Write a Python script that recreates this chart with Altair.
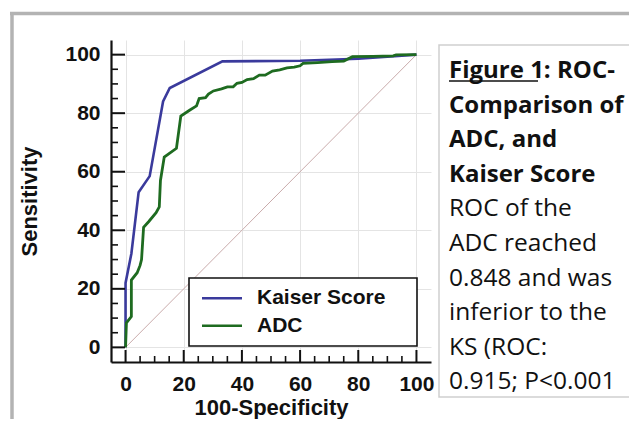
import altair as alt
import pandas as pd

# ---------------- data ----------------
ks_fpr = [0, 0, 2.0, 4.5, 8.3, 12.9, 15.2, 33.3, 60, 80, 100]
ks_tpr = [0, 22, 32, 53, 58.5, 84, 88.6, 97.7, 97.9, 98.6, 100]

adc_fpr = [0, 0.3, 2, 2, 4, 5, 5.5, 6.2, 8, 10.5, 11.6, 12, 13.3, 17.5, 19, 22, 24.4,
           25.3, 27.5, 28.5, 30.2, 33, 35, 37, 38.3, 40, 41.8, 44, 46, 48, 50.5, 53,
           55.5, 58, 60, 61, 66, 71, 75, 78, 85, 92, 93, 100]
adc_tpr = [0, 8.4, 10.5, 23, 25.5, 28, 30, 41, 43, 46, 48, 57, 65, 68, 79, 81, 82.5,
           85, 85.3, 86.5, 87.6, 88.3, 89, 89, 90.2, 90.5, 91.5, 91.8, 93, 93, 94.4, 94.8,
           95.5, 95.7, 96.2, 97, 97.3, 97.6, 97.8, 99.3, 99.4, 99.6, 99.9, 100]

series_names = ["Kaiser Score", "ADC"]
series_colors = ["#3a3a9c", "#1e6b20"]

diag_vals = [0, 100]
major_ticks = [0, 20, 40, 60, 80, 100]
minor_ticks = [5, 10, 15, 25, 30, 35, 45, 50, 55, 65, 70, 75, 85, 90, 95]

note_lines = ["Figure 1: ROC-", "Comparison of", "ADC, and", "Kaiser Score",
              "ROC of the", "ADC reached", "0.848 and was", "inferior to the",
              "KS (ROC:", "0.915; P<0.001"]
n_bold = 4

# ---------------- layout ----------------
W, H = 320, 322
AXF = "Liberation Sans"
TXF = "Open Sans"

xs = alt.Scale(domain=[-5, 105], nice=False, zero=False)
ys = alt.Scale(domain=[-5, 105], nice=False, zero=False)

ks_df = pd.DataFrame({"x": ks_fpr, "y": ks_tpr, "i": range(len(ks_fpr))})
adc_df = pd.DataFrame({"x": adc_fpr, "y": adc_tpr, "i": range(len(adc_fpr))})
diag_df = pd.DataFrame({"x": diag_vals, "y": diag_vals})
one = pd.DataFrame({"a": [0]})

x_axis = alt.Axis(values=major_ticks, grid=True, gridColor="#e4e4e4", gridWidth=1,
                  domain=True, domainColor="#111111", domainWidth=2.2,
                  ticks=False, tickSize=0, labelFont=AXF, labelFontWeight="bold",
                  labelFontSize=21, labelColor="#111111", labelPadding=11,
                  title="100-Specificity", titleFont=AXF, titleFontWeight="bold",
                  titleFontSize=22, titleColor="#111111", titlePadding=3)
y_axis = alt.Axis(values=major_ticks, grid=True, gridColor="#e4e4e4", gridWidth=1,
                  domain=True, domainColor="#111111", domainWidth=2.2,
                  ticks=False, tickSize=0, labelFont=AXF, labelFontWeight="bold",
                  labelFontSize=21, labelColor="#111111", labelPadding=11,
                  title="Sensitivity", titleFont=AXF, titleFontWeight="bold",
                  titleFontSize=22, titleColor="#111111", titlePadding=23)


def X(field):
    return alt.X(field, scale=xs, axis=x_axis)


def Y(field):
    return alt.Y(field, scale=ys, axis=y_axis)


diag = alt.Chart(diag_df).mark_line(color="#c9abab", strokeWidth=1).encode(
    x=X("x:Q"), y=Y("y:Q"))

ks_line = alt.Chart(ks_df).mark_line(color=series_colors[0], strokeWidth=2.6).encode(
    x=X("x:Q"), y=Y("y:Q"), order="i:Q")
adc_line = alt.Chart(adc_df).mark_line(color=series_colors[1], strokeWidth=2.8).encode(
    x=X("x:Q"), y=Y("y:Q"), order="i:Q")

# inward ticks
xmaj = alt.Chart(pd.DataFrame({"x": major_ticks})).mark_rule(color="#111111", strokeWidth=2).encode(
    x=X("x:Q"), y=alt.value(H), y2=alt.value(H - 12))
xmin = alt.Chart(pd.DataFrame({"x": minor_ticks})).mark_rule(color="#111111", strokeWidth=1.6).encode(
    x=X("x:Q"), y=alt.value(H), y2=alt.value(H - 6))
ymaj = alt.Chart(pd.DataFrame({"y": major_ticks})).mark_rule(color="#111111", strokeWidth=2).encode(
    y=Y("y:Q"), x=alt.value(0), x2=alt.value(14))
ymin = alt.Chart(pd.DataFrame({"y": minor_ticks})).mark_rule(color="#111111", strokeWidth=1.6).encode(
    y=Y("y:Q"), x=alt.value(0), x2=alt.value(7))

# legend box
leg_box = alt.Chart(one).mark_rect(fill="white", stroke="#111111", strokeWidth=1.6).encode(
    x=alt.value(78), x2=alt.value(306), y=alt.value(238), y2=alt.value(306))
leg_df = pd.DataFrame({"name": series_names, "color": series_colors,
                       "py": [258.3 + 27.4 * k for k in range(len(series_names))]})
leg_sym = alt.Chart(leg_df).mark_rule(strokeWidth=2.6).encode(
    x=alt.value(91), x2=alt.value(131), y=alt.Y("py:Q", scale=None),
    color=alt.Color("color:N", scale=None))
leg_txt = alt.Chart(leg_df).mark_text(align="left", baseline="middle", font=AXF,
                                      fontWeight="bold", fontSize=21, color="#111111").encode(
    x=alt.value(146), y=alt.Y("py:Q", scale=None), text="name:N")

# right-hand note box
note_box = alt.Chart(one).mark_rect(fill="white", stroke="#cfcfcf", strokeWidth=1.5).encode(
    x=alt.value(328), x2=alt.value(520), y=alt.value(5), y2=alt.value(357))
note_df = pd.DataFrame({"t": note_lines,
                        "py": [38 + 34.6 * k for k in range(len(note_lines))],
                        "b": [k < n_bold for k in range(len(note_lines))]})
note_bold = alt.Chart(note_df[note_df.b]).mark_text(align="left", baseline="alphabetic", font=TXF,
                                                    fontWeight="bold", fontSize=24, color="#111111").encode(
    x=alt.value(338), y=alt.Y("py:Q", scale=None), text="t:N")
note_reg = alt.Chart(note_df[~note_df.b]).mark_text(align="left", baseline="alphabetic", font=TXF,
                                                    fontWeight="normal", fontSize=24.5, color="#111111").encode(
    x=alt.value(338), y=alt.Y("py:Q", scale=None), text="t:N")
underline = alt.Chart(one).mark_rule(color="#111111", strokeWidth=1.6).encode(
    x=alt.value(338), x2=alt.value(427), y=alt.value(41))

# outer grey frame
frame_top = alt.Chart(one).mark_rule(color="#b3b3b3", strokeWidth=3.5).encode(
    x=alt.value(-101), x2=alt.value(540), y=alt.value(-26.5))
frame_left = alt.Chart(one).mark_rule(color="#b3b3b3", strokeWidth=3.5).encode(
    x=alt.value(-99), y=alt.value(-28), y2=alt.value(400))

chart = alt.layer(
    diag, ks_line, adc_line, xmaj, xmin, ymaj, ymin,
    leg_box, leg_sym, leg_txt,
    note_box, note_bold, note_reg, underline,
    frame_top, frame_left,
).properties(
    width=W, height=H,
    padding={"left": 103, "top": 32, "right": 198, "bottom": 57},
    autosize=alt.AutoSizeParams(type="none"),
    background="white",
).configure_view(stroke=None)

chart.save("out.html", embed_options={"renderer": "svg", "actions": False})
